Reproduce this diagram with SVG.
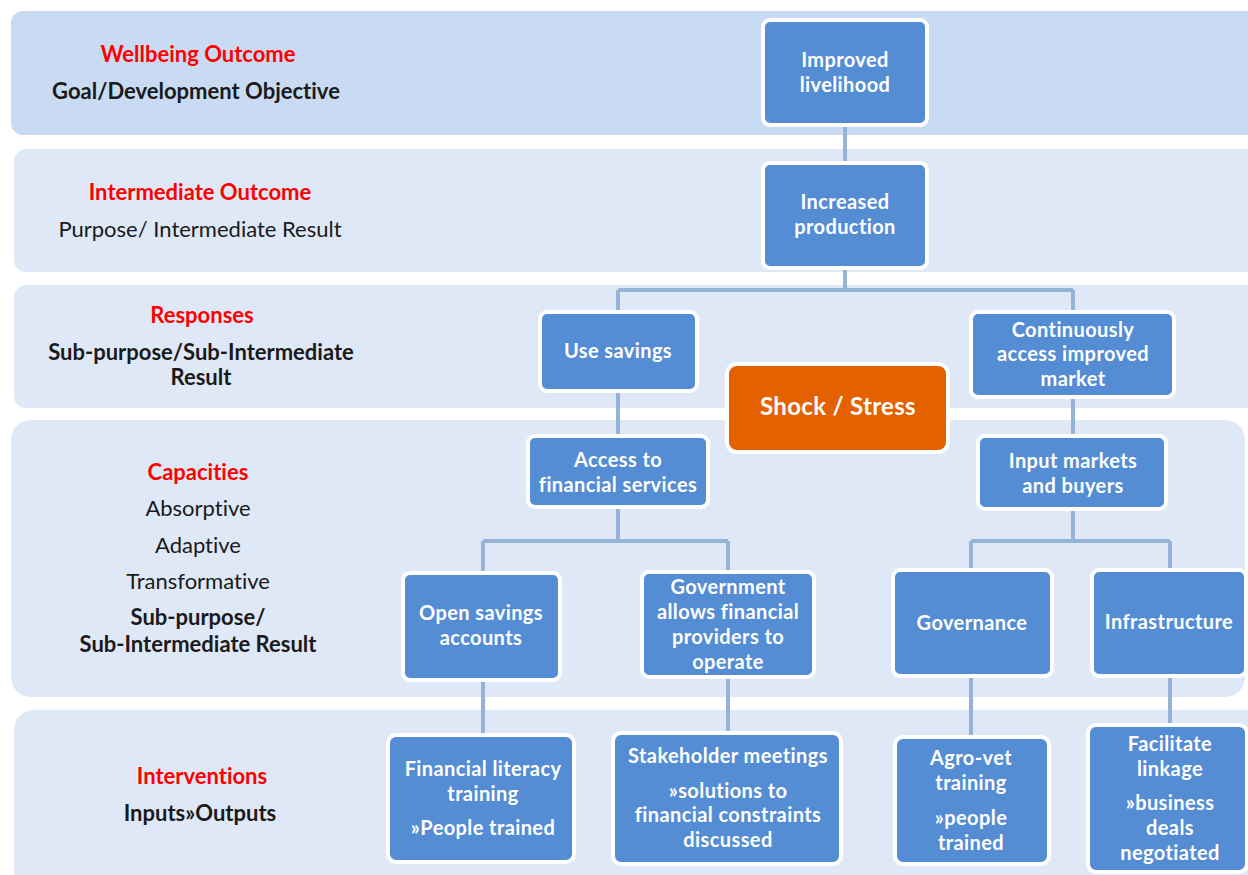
<svg xmlns="http://www.w3.org/2000/svg" width="1248" height="875" viewBox="0 0 1248 875">
<style>
.band{fill:#dfe8f7}
.band1{fill:#c9dbf2}
.node rect{fill:#548dd4;stroke:#fff;stroke-width:4}
.node.shock rect{fill:#e46100}
.nt{font-family:Lato,"Open Sans",sans-serif;font-weight:bold;font-size:20px;letter-spacing:0.4px;fill:#fff;text-anchor:middle;font-variant-ligatures:none}
.shock .nt{font-size:24px;letter-spacing:0.3px}
.lab{font-family:Lato,"Open Sans",sans-serif;font-size:22px;fill:#1a1a1a;text-anchor:middle;font-variant-ligatures:none}
.red{fill:#ff0000;font-weight:bold}
.b{font-weight:bold}
.conn{fill:none;stroke:#95b3d7;stroke-width:4}
</style>
<rect width="1248" height="875" fill="#fff"/>
<g id="bands">
<rect class="band1" x="11" y="11" width="1260" height="124" rx="12"/>
<rect class="band" x="14" y="149" width="1260" height="123" rx="12"/>
<rect class="band" x="14" y="285" width="1260" height="123" rx="12"/>
<rect class="band" x="11" y="420" width="1234" height="277" rx="20"/>
<rect class="band" x="14" y="710" width="1260" height="180" rx="20"/>
</g>
<g id="labels">
<text class="lab red" x="198" y="62">Wellbeing Outcome</text>
<text class="lab b" x="196" y="99">Goal/Development Objective</text>
<text class="lab red" x="200" y="200">Intermediate Outcome</text>
<text class="lab" x="200" y="237">Purpose/ Intermediate Result</text>
<text class="lab red" x="202" y="323">Responses</text>
<text class="lab b" x="201" y="360">Sub-purpose/Sub-Intermediate</text>
<text class="lab b" x="201" y="385">Result</text>
<text class="lab red" x="198" y="480">Capacities</text>
<text class="lab" x="198" y="516">Absorptive</text>
<text class="lab" x="198" y="553">Adaptive</text>
<text class="lab" x="198" y="589">Transformative</text>
<text class="lab b" x="198" y="625">Sub-purpose/</text>
<text class="lab b" x="198" y="652">Sub-Intermediate Result</text>
<text class="lab red" x="202" y="784">Interventions</text>
<text class="lab b" x="200" y="821">Inputs»Outputs</text>
</g>
<g id="connectors" class="conn">
<path d="M845 125V163"/>
<path d="M845 268V290M618 290H1073M618 290V312M1073 290V312"/>
<path d="M618 391V436"/>
<path d="M1073 397V436"/>
<path d="M618 507V541M483 541H728M483 541V573M728 541V572"/>
<path d="M1073 509V541M971 541H1170M971 541V570M1170 541V570"/>
<path d="M483 680V733"/>
<path d="M728 677V732"/>
<path d="M971 676V735"/>
<path d="M1170 676V724"/>
</g>
<g id="n-improved" class="node"><rect x="763" y="20" width="164" height="105" rx="7"/><text class="nt" x="845" y="67">Improved</text><text class="nt" x="845" y="92">livelihood</text></g>
<g id="n-increased" class="node"><rect x="763" y="163" width="164" height="105" rx="7"/><text class="nt" x="845" y="209">Increased</text><text class="nt" x="845" y="234">production</text></g>
<g id="n-usesavings" class="node"><rect x="540" y="312" width="157" height="79" rx="7"/><text class="nt" x="618" y="358">Use savings</text></g>
<g id="n-market" class="node"><rect x="971" y="312" width="203" height="85" rx="7"/><text class="nt" x="1073" y="337">Continuously</text><text class="nt" x="1073" y="361">access improved</text><text class="nt" x="1073" y="386">market</text></g>
<g id="n-shock" class="node shock"><rect x="727" y="364" width="221" height="88" rx="10"/><text class="nt" x="838" y="415">Shock / Stress</text></g>
<g id="n-access" class="node"><rect x="528" y="436" width="180" height="71" rx="7"/><text class="nt" x="618" y="467">Access to</text><text class="nt" x="618" y="492">financial services</text></g>
<g id="n-input" class="node"><rect x="978" y="436" width="188" height="73" rx="7"/><text class="nt" x="1073" y="468">Input markets</text><text class="nt" x="1073" y="493">and buyers</text></g>
<g id="n-opensavings" class="node"><rect x="403" y="573" width="157" height="107" rx="7"/><text class="nt" x="481" y="620">Open savings</text><text class="nt" x="481" y="645">accounts</text></g>
<g id="n-government" class="node"><rect x="642" y="572" width="172" height="105" rx="7"/><text class="nt" x="728" y="594">Government</text><text class="nt" x="728" y="619">allows financial</text><text class="nt" x="728" y="644">providers to</text><text class="nt" x="728" y="669">operate</text></g>
<g id="n-governance" class="node"><rect x="893" y="570" width="159" height="106" rx="7"/><text class="nt" x="972" y="630">Governance</text></g>
<g id="n-infrastructure" class="node"><rect x="1092" y="570" width="154" height="106" rx="7"/><text class="nt" x="1169" y="629">Infrastructure</text></g>
<g id="n-finlit" class="node"><rect x="388" y="735" width="186" height="127" rx="8"/><text class="nt" x="483" y="776">Financial literacy</text><text class="nt" x="483" y="801">training</text><text class="nt" x="483" y="835">»People trained</text></g>
<g id="n-stakeholder" class="node"><rect x="613" y="733" width="228" height="131" rx="8"/><text class="nt" x="728" y="763">Stakeholder meetings</text><text class="nt" x="728" y="798">»solutions to</text><text class="nt" x="728" y="822">financial constraints</text><text class="nt" x="728" y="847">discussed</text></g>
<g id="n-agrovet" class="node"><rect x="895" y="737" width="154" height="127" rx="8"/><text class="nt" x="971" y="765">Agro-vet</text><text class="nt" x="971" y="790">training</text><text class="nt" x="971" y="825">»people</text><text class="nt" x="971" y="850">trained</text></g>
<g id="n-facilitate" class="node"><rect x="1088" y="725" width="159" height="147" rx="8"/><text class="nt" x="1170" y="751">Facilitate</text><text class="nt" x="1170" y="776">linkage</text><text class="nt" x="1170" y="810">»business</text><text class="nt" x="1170" y="835">deals</text><text class="nt" x="1170" y="860">negotiated</text></g>
</svg>
